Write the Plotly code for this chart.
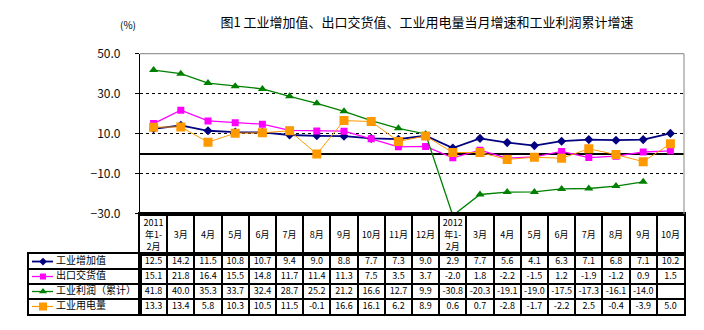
import plotly.graph_objects as go

# ---------------- data ----------------
categories = ["2011年1-2月", "2011年3月", "2011年4月", "2011年5月", "2011年6月", "2011年7月",
              "2011年8月", "2011年9月", "2011年10月", "2011年11月", "2011年12月",
              "2012年1-2月", "2012年3月", "2012年4月", "2012年5月", "2012年6月",
              "2012年7月", "2012年8月", "2012年9月", "2012年10月"]
tick_labels = ["2011<br>年1-<br>2月", "3月", "4月", "5月", "6月", "7月", "8月", "9月", "10月",
               "11月", "12月", "2012<br>年1-<br>2月", "3月", "4月", "5月", "6月", "7月", "8月",
               "9月", "10月"]
series_names = ["工业增加值", "出口交货值", "工业利润（累计）", "工业用电量"]
value_added = [12.5, 14.2, 11.5, 10.8, 10.7, 9.4, 9.0, 8.8, 7.7, 7.3, 9.0,
               2.9, 7.7, 5.6, 4.1, 6.3, 7.1, 6.8, 7.1, 10.2]
export_delivery = [15.1, 21.8, 16.4, 15.5, 14.8, 11.7, 11.4, 11.3, 7.5, 3.5, 3.7,
                   -2.0, 1.8, -2.2, -1.5, 1.2, -1.9, -1.2, 0.9, 1.5]
profit_cum = [41.8, 40.0, 35.3, 33.7, 32.4, 28.7, 25.2, 21.2, 16.6, 12.7, 9.9,
              -30.8, -20.3, -19.1, -19.0, -17.5, -17.3, -16.1, -14.0, None]
power_use = [13.3, 13.4, 5.8, 10.3, 10.5, 11.5, -0.1, 16.6, 16.1, 6.2, 8.9,
             0.6, 0.7, -2.8, -1.7, -2.2, 2.5, -0.4, -3.9, 5.0]
y_range = [-30, 50]
y_step = 20

# ---------------- styles / layout ----------------
W, H = 704, 330
FONT = "Noto Sans CJK SC"
colors = ["#000080", "#FF00FF", "#008000", "#FF9900"]
symbols = ["diamond", "square", "triangle-up", "square"]
msizes = [7, 7, 8, 9]
lwidths = [1.8, 1.3, 1.3, 1.0]
all_series = [value_added, export_delivery, profit_cum, power_use]


def fx(px):
    return px / W


def fy(px):
    return 1 - px / H


PLOT_L, PLOT_R, PLOT_T, PLOT_B = 140, 684, 46, 215
HEAD_B = 257.3
TAB_B = 320.5
LEG_L = 29
KEY_X0, KEY_X1, KEY_MID, LABEL_X = 3, 24, 14, 27

fig = go.Figure()

# main chart
for name, vals, c, s, ms, lw in zip(series_names, all_series, colors, symbols, msizes, lwidths):
    fig.add_trace(go.Scatter(
        x=categories, y=vals, mode="lines+markers", name=name,
        line=dict(color=c, width=lw), marker=dict(color=c, symbol=s, size=ms),
        xaxis="x", yaxis="y", showlegend=False, hoverinfo="skip"))

# header subplot (invisible carrier)
fig.add_trace(go.Scatter(x=categories, y=[0.5] * len(categories), mode="markers",
                         marker=dict(opacity=0), xaxis="x4", yaxis="y4",
                         showlegend=False, hoverinfo="skip"))

# table values
for name, vals in zip(series_names, all_series):
    fig.add_trace(go.Scatter(
        x=categories, y=[name] * len(categories), mode="text",
        text=["" if v is None else f"{v:.1f}" for v in vals],
        textposition="middle center", textfont=dict(family=FONT, size=9, color="#000"),
        xaxis="x2", yaxis="y2", showlegend=False, hoverinfo="skip", cliponaxis=False))

# legend column keys
for name, c, s, ms, lw in zip(series_names, colors, symbols, msizes, lwidths):
    fig.add_trace(go.Scatter(x=[KEY_X0, KEY_X1], y=[name, name], mode="lines",
                             line=dict(color=c, width=max(lw, 1.2)),
                             xaxis="x3", yaxis="y2", showlegend=False, hoverinfo="skip"))
    fig.add_trace(go.Scatter(x=[KEY_MID], y=[name], mode="markers",
                             marker=dict(color=c, symbol=s, size=ms - 1),
                             xaxis="x3", yaxis="y2", showlegend=False, hoverinfo="skip"))
    fig.add_trace(go.Scatter(x=[LABEL_X], y=[name], mode="text", text=[name],
                             textposition="middle right",
                             textfont=dict(family=FONT, size=10, color="#000"),
                             xaxis="x3", yaxis="y2", showlegend=False, hoverinfo="skip",
                             cliponaxis=False))

ticktext = [t if "<br>" in t else "<br>" + t for t in tick_labels]

fig.update_layout(
    width=W, height=H, margin=dict(l=0, r=0, t=0, b=0),
    paper_bgcolor="white", plot_bgcolor="white",
    font=dict(family=FONT, color="#000"),
    title=dict(text="图1 工业增加值、出口交货值、工业用电量当月增速和工业利润累计增速",
               x=427 / W, xanchor="center", y=fy(22), yanchor="middle",
               font=dict(family=FONT, size=13, color="#000")),
    xaxis=dict(domain=[fx(PLOT_L), fx(PLOT_R)], anchor="y", type="category",
               categoryorder="array", categoryarray=categories,
               range=[-0.5, len(categories) - 0.5],
               tickmode="array", tickvals=categories, ticktext=ticktext,
               ticks="", showgrid=False, showline=True, linecolor="#000", linewidth=1.5,
               tickfont=dict(family=FONT, size=9, color="#000"), ticklabelstandoff=0),
    yaxis=dict(domain=[fy(PLOT_B), fy(PLOT_T)], anchor="x", range=y_range,
               tickmode="linear", tick0=y_range[0], dtick=y_step, tickformat=".1f",
               showgrid=True, gridcolor="#000", gridwidth=1, griddash="3px,3px",
               zeroline=True, zerolinecolor="#000", zerolinewidth=1.5,
               showline=True, linecolor="#000", linewidth=1.2,
               ticks="outside", ticklen=4, tickcolor="#000", ticklabelstandoff=12,
               tickfont=dict(family=FONT, size=12, color="#111")),
    xaxis4=dict(domain=[fx(PLOT_L), fx(PLOT_R)], anchor="y4", type="category",
                categoryorder="array", categoryarray=categories,
                range=[-0.5, len(categories) - 0.5],
                tickmode="linear", tick0=0, dtick=1, tickson="boundaries",
                showgrid=True, gridcolor="#000", gridwidth=1.5, showticklabels=False,
                ticks="", showline=True, mirror=True, linecolor="#000", linewidth=1.5,
                zeroline=False),
    yaxis4=dict(domain=[fy(HEAD_B), fy(PLOT_B)], anchor="x4", range=[0, 1],
                showgrid=False, showticklabels=False, ticks="", zeroline=False,
                showline=True, mirror=True, linecolor="#000", linewidth=1.5),
    xaxis2=dict(domain=[fx(PLOT_L), fx(PLOT_R)], anchor="y2", type="category",
                categoryorder="array", categoryarray=categories,
                range=[-0.5, len(categories) - 0.5],
                tickmode="linear", tick0=0, dtick=1, tickson="boundaries",
                showgrid=True, gridcolor="#000", gridwidth=1.5, showticklabels=False,
                ticks="", showline=True, mirror=True, linecolor="#000", linewidth=1.5,
                zeroline=False),
    xaxis3=dict(domain=[fx(LEG_L), fx(PLOT_L)], anchor="y2", range=[0, PLOT_L - LEG_L],
                showgrid=False, showticklabels=False, ticks="", zeroline=False,
                showline=True, mirror=True, linecolor="#000", linewidth=1.5),
    yaxis2=dict(domain=[fy(TAB_B), fy(HEAD_B)], anchor="x2", type="category",
                categoryorder="array", categoryarray=series_names,
                range=[len(series_names) - 0.5, -0.5],
                tickmode="linear", tick0=0, dtick=1, tickson="boundaries",
                showgrid=True, gridcolor="#000", gridwidth=1.5, showticklabels=False,
                ticks="", showline=True, mirror="all", linecolor="#000", linewidth=1.5,
                zeroline=False),
    shapes=[
        dict(type="line", xref="x domain", yref="y domain", x0=0, x1=1, y0=1, y1=1,
             line=dict(color="#999999", width=1.2), layer="above"),
        dict(type="line", xref="x domain", yref="y domain", x0=1, x1=1, y0=0, y1=1,
             line=dict(color="#999999", width=1.2), layer="above"),
    ],
    annotations=[dict(text="(%)", x=128 / W, y=fy(15), xref="paper", yref="paper",
                      showarrow=False, xanchor="center", yanchor="middle",
                      font=dict(family=FONT, size=10, color="#000"))],
)

fig.write_html("out.html")
